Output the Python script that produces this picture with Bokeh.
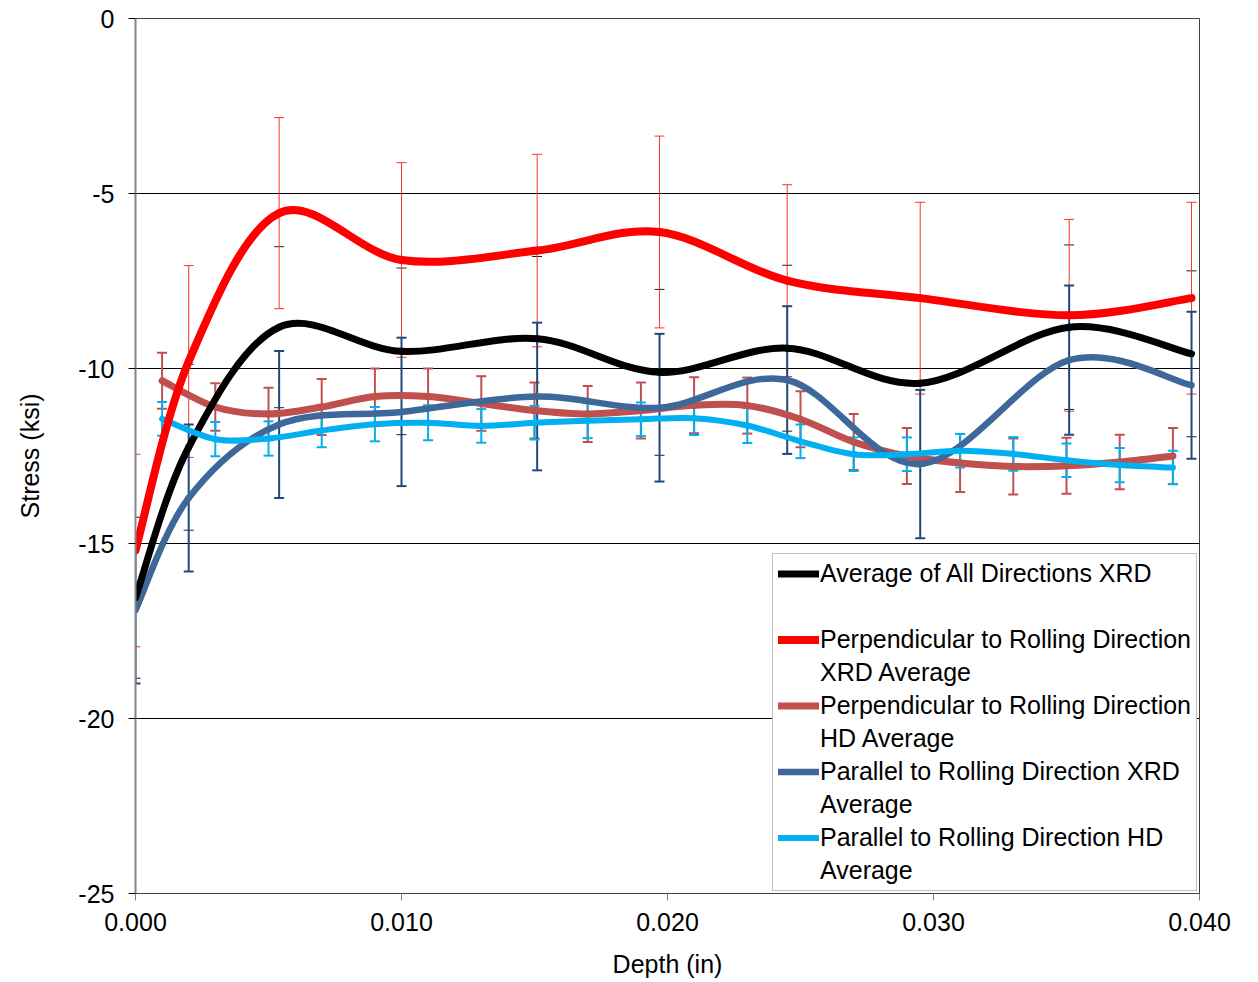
import numpy as np
from bokeh.plotting import figure
from bokeh.models import (ColumnDataSource, Whisker, TeeHead, Legend, LegendItem,
                          FixedTicker, PrintfTickFormatter, Range1d)
from bokeh.embed import file_html
from bokeh.resources import INLINE

# ---------------- data ----------------
xrd_depth = [0.0, 0.002, 0.0054, 0.0100, 0.0151, 0.0197, 0.0245, 0.0295, 0.0351, 0.0397]
avg_xrd = [-16.55, -12.25, -8.82, -9.51, -9.15, -10.11, -9.42, -10.42, -8.82, -9.58]
avg_xrd_err = [2.3, 2.37, 2.3, 2.38, 2.35, 2.37, 2.37, 2.37, 2.35, 2.37]
perp_xrd = [-15.2, -9.8, -5.56, -6.9, -6.63, -6.1, -7.49, -7.99, -8.48, -7.99]
perp_xrd_err = [2.75, 2.74, 2.73, 2.78, 2.75, 2.74, 2.74, 2.74, 2.74, 2.74]
par_xrd = [-16.9, -13.7, -11.6, -11.24, -10.8, -11.12, -10.33, -12.73, -9.76, -10.48]
par_xrd_err = [2.1, 2.1, 2.1, 2.12, 2.11, 2.11, 2.11, 2.12, 2.13, 2.1]

hd_depth = [0.001, 0.003, 0.005, 0.007, 0.009, 0.011, 0.013, 0.015, 0.017, 0.019,
            0.021, 0.023, 0.025, 0.027, 0.029, 0.031, 0.033, 0.035, 0.037, 0.039]
perp_hd = [-10.35, -11.1, -11.3, -11.1, -10.8, -10.8, -11.0, -11.2, -11.3, -11.2,
           -11.05, -11.06, -11.45, -12.1, -12.5, -12.7, -12.8, -12.78, -12.67, -12.5]
perp_hd_err = [0.8, 0.68, 0.75, 0.8, 0.8, 0.8, 0.78, 0.8, 0.8, 0.8,
               0.8, 0.8, 0.8, 0.8, 0.8, 0.83, 0.8, 0.8, 0.78, 0.8]
par_hd = [-11.44, -12.02, -12.0, -11.77, -11.59, -11.55, -11.64, -11.55, -11.49, -11.45,
          -11.42, -11.63, -12.08, -12.45, -12.45, -12.35, -12.44, -12.62, -12.76, -12.83]
par_hd_err = [0.48, 0.49, 0.49, 0.48, 0.49, 0.5, 0.48, 0.48, 0.5, 0.48,
              0.48, 0.5, 0.48, 0.48, 0.48, 0.48, 0.48, 0.48, 0.49, 0.48]

x_ticks = [0.0, 0.01, 0.02, 0.03, 0.04]
y_ticks = [-25, -20, -15, -10, -5, 0]

labels = ["Average of All Directions XRD\n ",
          "Perpendicular to Rolling Direction\nXRD Average",
          "Perpendicular to Rolling Direction\nHD Average",
          "Parallel to Rolling Direction XRD\nAverage",
          "Parallel to Rolling Direction HD\nAverage"]

FONT = "Liberation Sans"

p = figure(width=1258, height=982, output_backend="svg", toolbar_location=None,
           x_range=Range1d(0, 0.04), y_range=Range1d(-25, 0),
           min_border_left=135, min_border_right=59, min_border_top=18, min_border_bottom=89,
           background_fill_color="white", border_fill_color="white")
p.outline_line_color = "#404040"
p.outline_line_width = 1


def smooth_source(xs, ys):
    """Bezier control points (Catmull-Rom style smoothing like a spreadsheet's smoothed line)."""
    x = np.asarray(xs, float)
    y = np.asarray(ys, float)
    n = len(x)
    xp = np.concatenate([[x[0]], x, [x[-1]]])
    yp = np.concatenate([[y[0]], y, [y[-1]]])
    cx0 = x[:-1] + (xp[2:n + 1] - xp[0:n - 1]) / 6.0
    cy0 = y[:-1] + (yp[2:n + 1] - yp[0:n - 1]) / 6.0
    cx1 = x[1:] - (xp[3:n + 2] - xp[1:n]) / 6.0
    cy1 = y[1:] - (yp[3:n + 2] - yp[1:n]) / 6.0
    return ColumnDataSource(dict(x0=x[:-1], y0=y[:-1], x1=x[1:], y1=y[1:],
                                 cx0=cx0, cy0=cy0, cx1=cx1, cy1=cy1))


def curve(xs, ys, color, width):
    src = smooth_source(xs, ys)
    return p.bezier(x0="x0", y0="y0", x1="x1", y1="y1", cx0="cx0", cy0="cy0",
                    cx1="cx1", cy1="cy1", source=src, line_color=color,
                    line_width=width, line_cap="round")


def errbars(xs, ys, errs, color, width, stem=True):
    ys = np.asarray(ys, float)
    errs = np.asarray(errs, float)
    src = ColumnDataSource(dict(x=xs, upper=ys + errs, lower=ys - errs))
    w = Whisker(base="x", upper="upper", lower="lower", source=src,
                line_color=color if stem else None, line_width=width,
                upper_head=TeeHead(size=10, line_color=color, line_width=width),
                lower_head=TeeHead(size=10, line_color=color, line_width=width))
    p.add_layout(w)


BLACK = "#000000"
RED = "#FF0000"
BROWN = "#C0504D"
DBLUE = "#3E6899"
LBLUE = "#00B0F0"

r_brown = curve(hd_depth, perp_hd, BROWN, 7)
r_dblue = curve(xrd_depth, par_xrd, DBLUE, 6.5)
r_black = curve(xrd_depth, avg_xrd, BLACK, 7)
r_lblue = curve(hd_depth, par_hd, LBLUE, 6)
r_red = curve(xrd_depth, perp_xrd, RED, 8)
# invisible renderer used for the continuation lines of the legend labels
r_blank = p.line(x=[], y=[], line_alpha=0)

errbars(xrd_depth, avg_xrd, avg_xrd_err, "#202020", 1, stem=False)
errbars(xrd_depth, perp_xrd, perp_xrd_err, "#FF3030", 1)
errbars(hd_depth, perp_hd, perp_hd_err, BROWN, 2)
errbars(xrd_depth, par_xrd, par_xrd_err, "#1F497D", 2)
errbars(hd_depth, par_hd, par_hd_err, LBLUE, 2)

# axes
p.xaxis.ticker = FixedTicker(ticks=x_ticks)
p.xaxis.formatter = PrintfTickFormatter(format="%.3f")
p.yaxis.ticker = FixedTicker(ticks=y_ticks)
p.yaxis.formatter = PrintfTickFormatter(format="%d")
for ax in (p.xaxis, p.yaxis):
    ax.major_label_text_font = FONT
    ax.major_label_text_font_size = "25px"
    ax.major_label_text_color = "black"
    ax.axis_label_text_font = FONT
    ax.axis_label_text_font_size = "25px"
    ax.axis_label_text_font_style = "normal"
    ax.axis_label_text_color = "black"
    ax.minor_tick_line_color = None
    ax.major_tick_in = 0
    ax.major_tick_out = 7
p.xaxis.axis_label = "Depth (in)"
p.yaxis.axis_label = "Stress (ksi)"
p.xaxis.axis_line_color = "#404040"
p.xaxis.major_tick_line_color = "#868686"
p.xaxis.major_label_standoff = 12
p.xaxis.axis_label_standoff = 16
p.yaxis.axis_line_color = "#868686"
p.yaxis.axis_line_width = 2
p.yaxis.major_tick_line_color = "black"
p.yaxis.major_label_standoff = 14
p.yaxis.axis_label_standoff = 31

p.xgrid.grid_line_color = None
p.ygrid.grid_line_color = "black"
p.ygrid.grid_line_width = 1

items = []
for lab, rend in zip(labels, [r_black, r_red, r_brown, r_dblue, r_lblue]):
    first, second = lab.split("\n")
    items.append(LegendItem(label=first, renderers=[rend]))
    items.append(LegendItem(label=second, renderers=[r_blank]))

legend = Legend(items=items, location=(637, 2), orientation="vertical")
legend.label_text_font = FONT
legend.label_text_font_size = "25px"
legend.label_text_line_height = 1.16
legend.label_text_color = "black"
legend.glyph_width = 41
legend.glyph_height = 29
legend.label_height = 29
legend.label_standoff = 1
legend.spacing = 4
legend.padding = 5
legend.margin = 0
legend.border_line_color = "#7f7f7f"
legend.border_line_width = 1
legend.background_fill_color = "white"
legend.background_fill_alpha = 1.0
p.add_layout(legend, "center")

open("out.html", "w").write(file_html(p, INLINE))
